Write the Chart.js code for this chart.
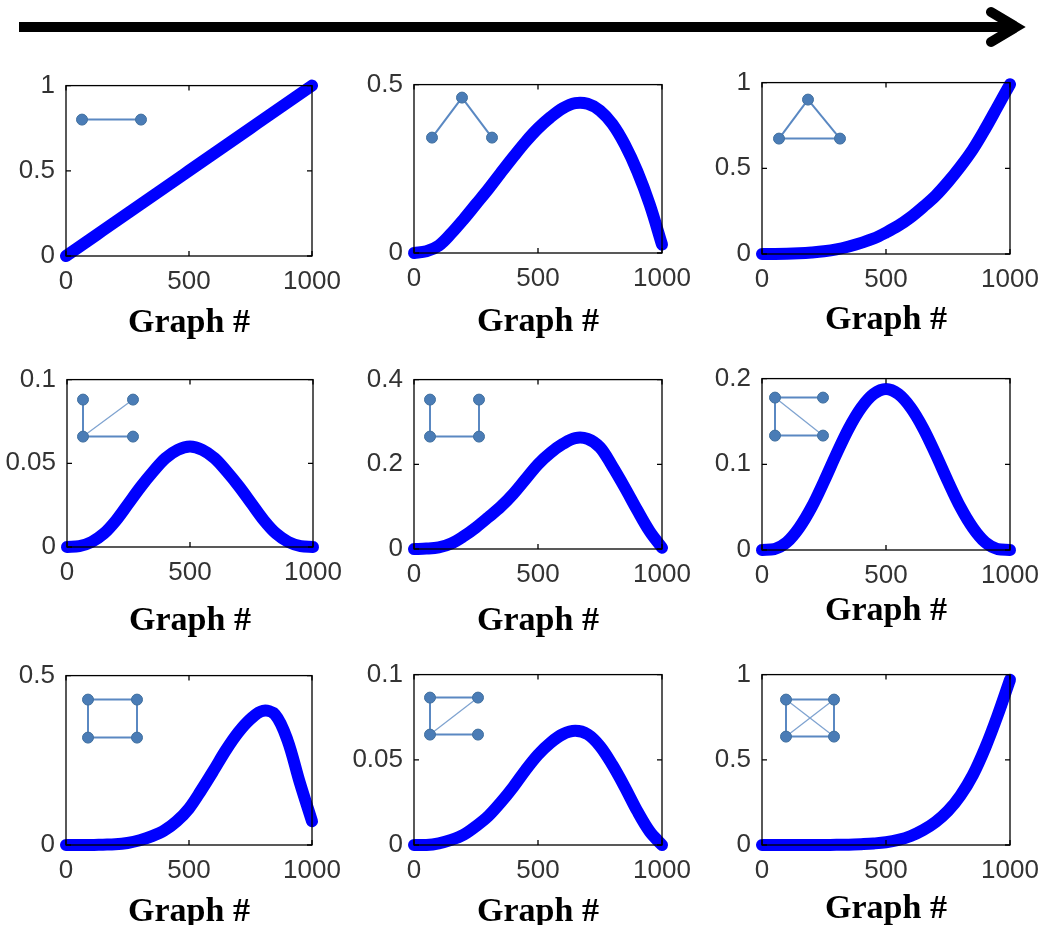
<!DOCTYPE html>
<html>
<head>
<meta charset="utf-8">
<title>Motif frequency vs graph number</title>
<script src="https://cdn.jsdelivr.net/npm/chart.js@4.4.0/dist/chart.umd.min.js"></script>
<style>
  body { margin: 0; background: #fff; width: 1043px; height: 925px; overflow: hidden; position: relative; }
  canvas { position: absolute; }
  #arrow { position: absolute; left: 0; top: 0; }
</style>
</head>
<body>
<svg id="arrow" width="1043" height="60">
  <line x1="19" y1="27" x2="1016" y2="27" stroke="#000" stroke-width="10"/>
  <polyline points="991,12 1016,27 991,42" fill="none" stroke="#000" stroke-width="10"
            stroke-linecap="round" stroke-linejoin="miter"/>
</svg>
<script>
/* x positions (graph #) shared by every panel */
var graphNums = [0, 50, 100, 150, 200, 250, 300, 350, 400, 450, 500,
                 550, 600, 650, 700, 750, 800, 850, 900, 950, 1000];

/* motif share for each graph, one list per motif */
var edgeVals     = [0, 0.05, 0.10, 0.15, 0.20, 0.25, 0.30, 0.35, 0.40, 0.45, 0.50,
                    0.55, 0.60, 0.65, 0.70, 0.75, 0.80, 0.85, 0.90, 0.95, 1.0];
var wedgeVals    = [0, 0.005, 0.022, 0.058, 0.10, 0.145, 0.19, 0.238, 0.285, 0.33, 0.37,
                    0.403, 0.43, 0.445, 0.443, 0.423, 0.383, 0.322, 0.243, 0.145, 0.025];
var triangleVals = [0, 0, 0.001, 0.004, 0.009, 0.016, 0.027, 0.044, 0.065, 0.09, 0.125,
                    0.165, 0.215, 0.275, 0.34, 0.42, 0.51, 0.61, 0.73, 0.86, 0.99];
var starVals     = [0, 0.0005, 0.003, 0.008, 0.016, 0.026, 0.036, 0.045, 0.053, 0.058, 0.060,
                    0.058, 0.053, 0.045, 0.036, 0.026, 0.016, 0.008, 0.003, 0.0005, 0];
var pathVals     = [0, 0.001, 0.004, 0.013, 0.03, 0.051, 0.075, 0.10, 0.13, 0.165, 0.20,
                    0.227, 0.248, 0.262, 0.26, 0.24, 0.195, 0.145, 0.092, 0.042, 0.003];
var pawVals      = [0, 0.001, 0.009, 0.026, 0.05, 0.08, 0.112, 0.142, 0.166, 0.182, 0.188,
                    0.182, 0.166, 0.142, 0.112, 0.08, 0.05, 0.026, 0.009, 0.001, 0];
var squareVals   = [0, 0, 0, 0.001, 0.002, 0.006, 0.014, 0.026, 0.043, 0.07, 0.108,
                    0.162, 0.22, 0.28, 0.332, 0.372, 0.396, 0.385, 0.31, 0.185, 0.07];
var chordVals    = [0, 0, 0.001, 0.003, 0.006, 0.011, 0.017, 0.025, 0.034, 0.044, 0.053,
                    0.06, 0.065, 0.067, 0.065, 0.058, 0.047, 0.034, 0.02, 0.008, 0];
var cliqueVals   = [0, 0, 0, 0, 0, 0.0005, 0.001, 0.002, 0.005, 0.009, 0.016,
                    0.03, 0.053, 0.088, 0.135, 0.2, 0.29, 0.41, 0.57, 0.76, 0.97];

var seriesList = [edgeVals, wedgeVals, triangleVals, starVals, pathVals,
                  pawVals, squareVals, chordVals, cliqueVals];

var yMaxes = [1, 0.5, 1, 0.1, 0.4, 0.2, 0.5, 0.1, 1];
var yTicks = [[0, 0.5, 1], [0, 0.5], [0, 0.5, 1], [0, 0.05, 0.1], [0, 0.2, 0.4],
              [0, 0.1, 0.2], [0, 0.5], [0, 0.05, 0.1], [0, 0.5, 1]];
var xTicks = [0, 500, 1000];
var xTitle = 'Graph #';

/* plot box of each panel on the page, and where its axis title sits */
var panels = [
  {x: 66,  y: 79,  w: 246, h: 177, gap: 67},
  {x: 414, y: 78,  w: 248, h: 175, gap: 69},
  {x: 762, y: 76,  w: 248, h: 178, gap: 66},
  {x: 67,  y: 373, w: 246, h: 174, gap: 74},
  {x: 414, y: 373, w: 248, h: 176, gap: 72},
  {x: 762, y: 372, w: 248, h: 178, gap: 61},
  {x: 66,  y: 669, w: 246, h: 176, gap: 67},
  {x: 414, y: 668, w: 248, h: 177, gap: 67},
  {x: 762, y: 668, w: 248, h: 177, gap: 64}
];

/* little motif sketches in the corner of each panel (px from plot corner) */
var motifs = [
  {nodes: [[16, 34], [75, 34]], edges: [[0, 1]]},
  {nodes: [[18, 53], [48, 13], [78, 53]], edges: [[0, 1], [1, 2]]},
  {nodes: [[17, 56], [46, 17], [78, 56]], edges: [[0, 1], [1, 2], [0, 2]]},
  {nodes: [[16, 20], [66, 20], [16, 57], [66, 57]], edges: [[0, 2], [2, 3], [2, 1]]},
  {nodes: [[16, 20], [65, 20], [16, 57], [65, 57]], edges: [[0, 2], [2, 3], [3, 1]]},
  {nodes: [[13, 19], [61, 19], [13, 57], [61, 57]], edges: [[0, 1], [0, 2], [2, 3], [0, 3]]},
  {nodes: [[22, 24], [71, 24], [22, 62], [71, 62]], edges: [[0, 1], [1, 3], [3, 2], [2, 0]]},
  {nodes: [[16, 23], [64, 23], [16, 60], [64, 60]], edges: [[0, 1], [0, 2], [2, 3], [2, 1]]},
  {nodes: [[24, 25], [72, 25], [24, 62], [72, 62]], edges: [[0, 1], [1, 3], [3, 2], [2, 0], [0, 3], [1, 2]]}
];

var PAD_L = 72, PAD_T = 20, PAD_R = 40, AXIS_H = 96;
var tickFont = {family: 'Liberation Sans', size: 26};
var titleFont = {family: 'Liberation Serif', size: 34, weight: 'bold'};

/* box with inward ticks on all four sides, drawn over the data */
var framePlugin = {
  id: 'frame',
  afterDraw: function(chart) {
    var ctx = chart.ctx, a = chart.chartArea;
    var xs = chart.scales.x, ys = chart.scales.y;
    ctx.save();
    ctx.strokeStyle = '#000';
    ctx.lineWidth = 1.3;
    ctx.strokeRect(a.left, a.top, a.right - a.left, a.bottom - a.top);
    ctx.beginPath();
    xs.ticks.forEach(function(t) {
      var px = xs.getPixelForValue(t.value);
      ctx.moveTo(px, a.bottom); ctx.lineTo(px, a.bottom - 5);
      ctx.moveTo(px, a.top);    ctx.lineTo(px, a.top + 5);
    });
    ys.ticks.forEach(function(t) {
      var py = ys.getPixelForValue(t.value);
      ctx.moveTo(a.left, py);  ctx.lineTo(a.left + 5, py);
      ctx.moveTo(a.right, py); ctx.lineTo(a.right - 5, py);
    });
    ctx.stroke();
    ctx.restore();
  }
};

/* motif sketch, drawn before the curve */
var motifPlugin = {
  id: 'motif',
  beforeDatasetsDraw: function(chart, args, opts) {
    var m = motifs[opts.index];
    var ctx = chart.ctx, a = chart.chartArea;
    ctx.save();
    m.edges.forEach(function(e) {
      var p = m.nodes[e[0]], q = m.nodes[e[1]];
      var diag = p[0] != q[0] && p[1] != q[1] && m.nodes.length > 3;
      ctx.strokeStyle = diag ? '#7fa3d0' : '#5a88c2';
      ctx.lineWidth = diag ? 1.3 : 2;
      ctx.beginPath();
      ctx.moveTo(a.left + p[0], a.top + p[1]);
      ctx.lineTo(a.left + q[0], a.top + q[1]);
      ctx.stroke();
    });
    m.nodes.forEach(function(n) {
      ctx.beginPath();
      ctx.arc(a.left + n[0], a.top + n[1], 5.5, 0, Math.PI * 2);
      ctx.fillStyle = '#4a7cb6';
      ctx.fill();
      ctx.strokeStyle = '#41709f';
      ctx.lineWidth = 1;
      ctx.stroke();
    });
    ctx.restore();
  }
};

function makePanel(i) {
  var p = panels[i];
  var canvas = document.createElement('canvas');
  canvas.width = p.w + PAD_L + PAD_R;
  canvas.height = p.h + PAD_T + AXIS_H;
  canvas.style.left = (p.x - PAD_L) + 'px';
  canvas.style.top = (p.y - PAD_T) + 'px';
  document.body.appendChild(canvas);

  var points = graphNums.map(function(g, k) {
    return {x: g, y: seriesList[i][k]};
  });

  new Chart(canvas.getContext('2d'), {
    type: 'line',
    data: {
      datasets: [{
        data: points,
        borderColor: 'rgb(0, 0, 255)',
        borderWidth: 12,
        pointRadius: 0,
        tension: 0.35,
        borderCapStyle: 'round',
        borderJoinStyle: 'round',
        clip: 8
      }]
    },
    options: {
      responsive: false,
      animation: false,
      devicePixelRatio: 1,
      layout: {padding: {left: 0, top: PAD_T, right: PAD_R, bottom: 0}},
      plugins: {
        legend: {display: false},
        tooltip: {enabled: false},
        motif: {index: i}
      },
      scales: {
        x: {
          type: 'linear',
          min: 0,
          max: 1000,
          grid: {display: false, drawTicks: false},
          border: {display: false},
          afterBuildTicks: function(s) {
            s.ticks = xTicks.map(function(v) { return {value: v}; });
          },
          afterFit: function(s) { s.height = AXIS_H; },
          ticks: {
            font: tickFont,
            color: '#333',
            padding: 10,
            maxRotation: 0,
            autoSkip: false,
            callback: function(v) { return String(v); }
          },
          title: {
            display: true,
            text: xTitle,
            color: '#000',
            font: titleFont,
            padding: {top: 0, bottom: AXIS_H - titleFont.size * 0.6 - p.gap}
          }
        },
        y: {
          type: 'linear',
          min: 0,
          max: yMaxes[i],
          grid: {display: false, drawTicks: false},
          border: {display: false},
          afterBuildTicks: function(s) {
            s.ticks = yTicks[i].map(function(v) { return {value: v}; });
          },
          afterFit: function(s) { s.width = PAD_L; },
          ticks: {
            font: tickFont,
            color: '#333',
            padding: 11,
            autoSkip: false,
            callback: function(v) { return String(v); }
          }
        }
      }
    },
    plugins: [framePlugin, motifPlugin]
  });
}

for (var i = 0; i < panels.length; i++) {
  makePanel(i);
}
</script>
</body>
</html>
